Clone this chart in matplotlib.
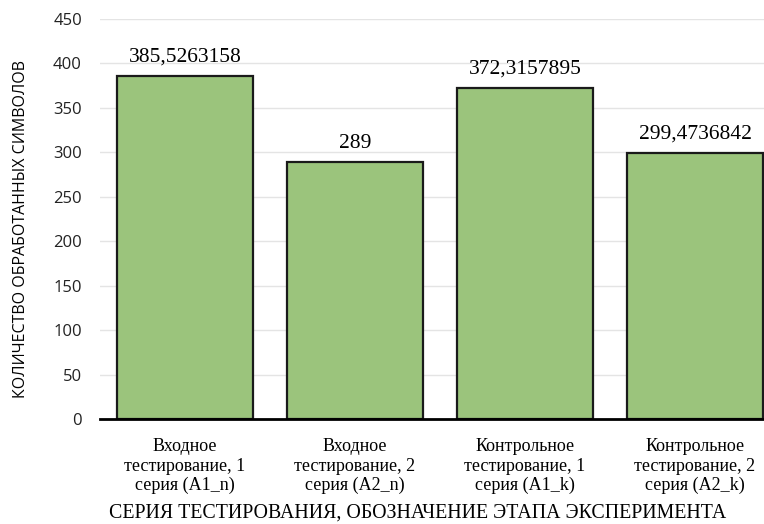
import matplotlib.pyplot as plt

categories = [
    'Входное\nтестирование, 1\nсерия (A1_n)',
    'Входное\nтестирование, 2\nсерия (A2_n)',
    'Контрольное\nтестирование, 1\nсерия (A1_k)',
    'Контрольное\nтестирование, 2\nсерия (A2_k)',
]
values = [385.5263158, 289, 372.3157895, 299.4736842]
value_labels = ['385,5263158', '289', '372,3157895', '299,4736842']
y_ticks = [0, 50, 100, 150, 200, 250, 300, 350, 400, 450]

fig = plt.figure(figsize=(7.64, 5.24), dpi=100)
# axes runs a little past the right edge of the canvas
ax = fig.add_axes([100 / 764, 105 / 524, 680 / 764, 400 / 524])

x = list(range(len(values)))
ax.bar(x, values, width=0.8, color='#9BC47C', edgecolor='#1a1a1a', linewidth=1.6, zorder=3)

for xi, v, lbl in zip(x, values, value_labels):
    ax.annotate(lbl, (xi, v), xytext=(0, 10.5), textcoords='offset points',
                ha='center', va='baseline', fontsize=15.5, family='Liberation Serif')

ax.set_xlim(-0.5, 3.5)
ax.set_ylim(0, 450)
ax.set_yticks(y_ticks)
ax.set_yticklabels([str(t) for t in y_ticks], fontsize=12, family='Open Sans', color='#222222')
ax.set_xticks(x)
ax.set_xticklabels(categories, fontsize=13, family='Liberation Serif', linespacing=1.18)
ax.tick_params(axis='both', length=0)
ax.tick_params(axis='y', pad=13)
ax.tick_params(axis='x', pad=14)

ax.grid(axis='y', color='#e4e4e4', linewidth=1, zorder=0)
for side in ['top', 'right', 'left']:
    ax.spines[side].set_visible(False)
ax.spines['bottom'].set_linewidth(2)
ax.spines['bottom'].set_zorder(4)

fig.text(21 / 764, 1 - 229 / 524, 'КОЛИЧЕСТВО ОБРАБОТАННЫХ СИМВОЛОВ', rotation=90,
         ha='center', va='center', fontsize=11.5, family='Open Sans')
fig.text(418 / 764, 1 - 518 / 524, 'СЕРИЯ ТЕСТИРОВАНИЯ, ОБОЗНАЧЕНИЕ ЭТАПА ЭКСПЕРИМЕНТА',
         ha='center', va='baseline', fontsize=14.3, family='Liberation Serif')

fig.savefig('out.png', dpi=100)
